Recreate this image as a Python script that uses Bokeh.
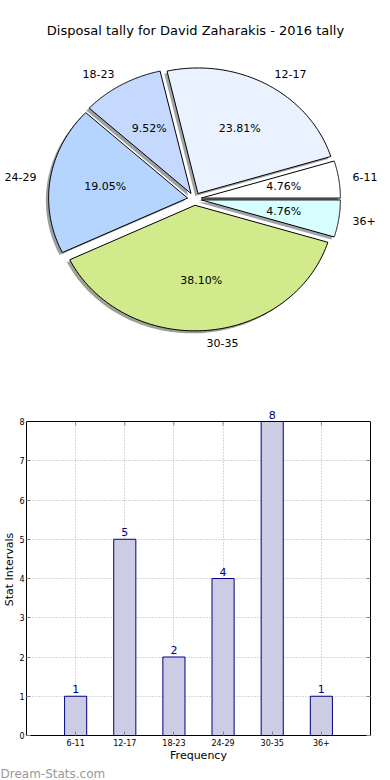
import numpy as np
from bokeh.plotting import figure
from bokeh.models import (ColumnDataSource, Range1d, FixedTicker, LinearAxis, LabelSet,
                          Span, Title)
from bokeh.core.properties import value
from bokeh.embed import file_html
from bokeh.resources import INLINE

# ---------------- data ----------------
title_text = "Disposal tally for David Zaharakis - 2016 tally"
categories = ["6-11", "12-17", "18-23", "24-29", "30-35", "36+"]
counts = [1, 5, 2, 4, 8, 1]
pie_colors = ["#ffffff", "#eaf2ff", "#c5d9ff", "#b5d5ff", "#d0ea8c", "#d8ffff"]
y_ticks = [0, 1, 2, 3, 4, 5, 6, 7, 8]
x_label = "Frequency"
y_label = "Stat Intervals"
watermark = "Dream-Stats.com"

# ---------------- styling ----------------
FONT = "DejaVu Sans"
W = 390
PIE_H = 400
BAR_H = 380
bar_fill = "#cccce5"
bar_edge = "#000080"

# pie geometry (matplotlib-like, non-equal aspect)
EXPLODE = 0.05
SX = 139.0     # px per data unit, x
SY = 125.6     # px per data unit, y
CX = 194.0     # pie centre, px from figure left
CY = 198.5     # pie centre, px from figure top
T = 42         # top border (title panel)

frame_h = PIE_H - T
cy_frame = CY - T
p1 = figure(width=W, height=PIE_H, output_backend="svg", toolbar_location=None,
            x_range=Range1d(-CX / SX, (W - CX) / SX),
            y_range=Range1d(-(frame_h - cy_frame) / SY, cy_frame / SY),
            x_axis_location=None, y_axis_location=None, min_border=0,
            min_border_top=T, title=title_text)
p1.grid.visible = False
p1.outline_line_color = None
p1.title.align = "center"
p1.title.text_font = FONT
p1.title.text_font_size = "13px"
p1.title.text_font_style = "normal"
p1.title.text_color = "#000000"


def shade(hexcol):
    h = hexcol.lstrip("#")
    r, g, b = (int(h[i:i + 2], 16) for i in (0, 2, 4))
    return "#%02x%02x%02x" % (int(r * 0.3), int(g * 0.3), int(b * 0.3))


total = float(sum(counts))
xs, ys, sxs, sys_ = [], [], [], []
lab_x, lab_y, lab_align = [], [], []
pct_x, pct_y, pct_text = [], [], []
theta = 0.0
for c in counts:
    frac = c / total
    t1, t2 = theta, theta + 360.0 * frac
    theta = t2
    mid = np.radians((t1 + t2) / 2)
    ex, ey = EXPLODE * np.cos(mid), EXPLODE * np.sin(mid)
    ang = np.radians(np.linspace(t1, t2, 90))
    px = np.concatenate([[ex], ex + np.cos(ang), [ex]])
    py = np.concatenate([[ey], ey + np.sin(ang), [ey]])
    xs.append(list(px)); ys.append(list(py))
    sxs.append(list(px - 0.02)); sys_.append(list(py - 0.02))
    lx = ex + 1.1 * np.cos(mid)
    ly = ey + 1.1 * np.sin(mid)
    lab_x.append(lx); lab_y.append(ly)
    lab_align.append("left" if lx > 0 else "right")
    pct_x.append(ex + 0.6 * np.cos(mid)); pct_y.append(ey + 0.6 * np.sin(mid))
    pct_text.append("%.2f%%" % (100.0 * frac))

shadow_src = ColumnDataSource(dict(xs=sxs, ys=sys_, color=[shade(c) for c in pie_colors]))
p1.patches("xs", "ys", source=shadow_src, fill_color="color", fill_alpha=0.5, line_color=None)
pie_src = ColumnDataSource(dict(xs=xs, ys=ys, color=pie_colors))
p1.patches("xs", "ys", source=pie_src, fill_color="color", line_color="#000000", line_width=1)

lab_src = ColumnDataSource(dict(x=lab_x, y=lab_y, text=categories, align=lab_align))
p1.text("x", "y", text="text", source=lab_src, text_align="align", text_baseline="middle",
        text_font=value(FONT), text_font_size="11px", text_color="#000000")
pct_src = ColumnDataSource(dict(x=pct_x, y=pct_y, text=pct_text))
p1.text("x", "y", text="text", source=pct_src, text_align="center", text_baseline="middle",
        text_font=value(FONT), text_font_size="11px", text_color="#000000")

# ---------------- bar chart ----------------
B_TOP = 3            # frame top, px from figure top (frame reaches above the y=8 spine)
B_BOTTOM = 45        # bottom border (axis + watermark)
Y8_PX = 18           # px between frame top and the y=8 spine
px_per_unit = (BAR_H - B_TOP - B_BOTTOM - Y8_PX) / 8.0
y_top = y_ticks[-1]
idx = list(range(len(categories)))
p2 = figure(width=W, height=BAR_H, output_backend="svg", toolbar_location=None,
            x_range=Range1d(-1, len(categories)),
            y_range=Range1d(0, y_top + Y8_PX / px_per_unit),
            min_border_left=10, min_border_right=20, min_border_top=B_TOP,
            min_border_bottom=B_BOTTOM)
p2.outline_line_color = None

xt = FixedTicker(ticks=idx)
yt = FixedTicker(ticks=y_ticks)
p2.xaxis.ticker = xt
p2.yaxis.ticker = yt
p2.xgrid.ticker = xt
p2.ygrid.ticker = yt
p2.xaxis.major_label_overrides = {i: c for i, c in enumerate(categories)}
p2.yaxis.bounds = (0, y_top)
for ax in (p2.xaxis[0], p2.yaxis[0]):
    ax.major_tick_in = 4
    ax.major_tick_out = 0
    ax.minor_tick_line_color = None
    ax.major_tick_line_color = "#888888"
    ax.axis_line_color = "#000000"
    ax.major_label_text_font = FONT
    ax.major_label_text_font_size = "8px"
    ax.major_label_text_color = "#000000"
    ax.major_label_standoff = 2
    ax.axis_label_text_font = FONT
    ax.axis_label_text_font_size = "11px"
    ax.axis_label_text_font_style = "normal"
    ax.axis_label_text_color = "#000000"
    ax.axis_label_standoff = 0
p2.xaxis[0].axis_label = x_label
p2.yaxis[0].axis_label = y_label
p2.xaxis[0].major_label_standoff = 3

rax = LinearAxis(ticker=yt, bounds=(0, y_top), major_tick_in=4, major_tick_out=0,
                 minor_tick_line_color=None, major_tick_line_color="#888888",
                 axis_line_color="#000000", major_label_text_color=None,
                 major_label_standoff=0)
p2.add_layout(rax, "right")

# top spine at y = 8 and its inward tick marks
p2.add_layout(Span(location=y_top, dimension="width", line_color="#000000", line_width=1))
tick_src = ColumnDataSource(dict(x=idx, y0=[y_top] * len(idx),
                                 y1=[y_top - 4.0 / px_per_unit] * len(idx)))
p2.segment(x0="x", y0="y0", x1="x", y1="y1", source=tick_src,
           line_color="#888888", line_width=1)

p2.grid.grid_line_color = "#b0b0b0"
p2.grid.grid_line_dash = "1 2"
p2.grid.grid_line_width = 1
p2.xgrid.cross_bounds = (0, y_top)

bar_src = ColumnDataSource(dict(x=idx, top=counts, label=[str(c) for c in counts]))
p2.vbar(x="x", top="top", width=0.45, source=bar_src, fill_color=bar_fill,
        line_color=bar_edge, line_width=1)
p2.add_layout(LabelSet(x="x", y="top", text="label", source=bar_src, y_offset=3,
                       text_align="center", text_baseline="bottom",
                       text_font=value(FONT), text_font_size="11px", text_color=bar_edge))
p2.add_layout(Title(text=watermark, align="left", offset=-26, standoff=0,
                    text_font=FONT, text_font_size="12px", text_font_style="normal",
                    text_color="#999999"), "below")

open("out.html", "w").write(file_html([p1, p2], INLINE, "chart"))
